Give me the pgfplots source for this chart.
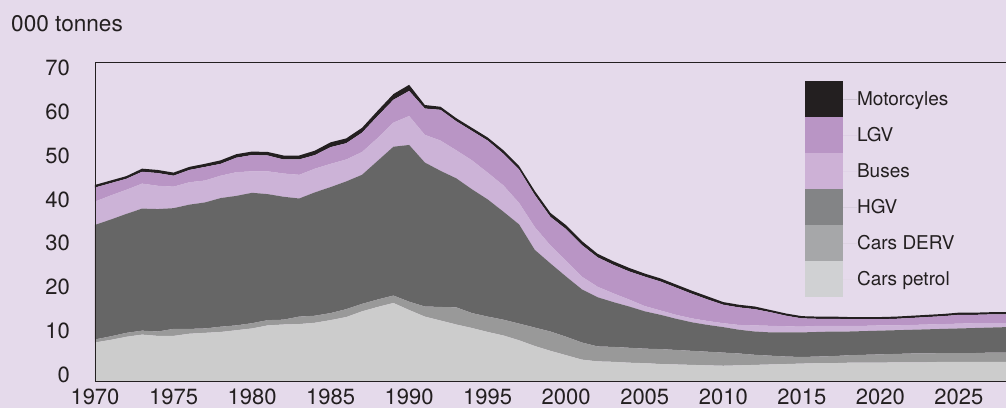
\documentclass[border=0pt]{standalone}
\usepackage{fontspec}
\setmainfont{TeX Gyre Heros}
\usepackage{pgfplots}
\usepackage{pgfplotstable}
\pgfplotsset{compat=1.18}
\definecolor{bgc}{HTML}{E5DAEB}
\definecolor{txt}{HTML}{231F20}
\definecolor{aPetrol}{HTML}{CCCCCC}
\definecolor{aDerv}{HTML}{999999}
\definecolor{aHgv}{HTML}{666666}
\definecolor{aBus}{HTML}{CCB3D7}
\definecolor{aLgv}{HTML}{B995C5}
\definecolor{aMoto}{HTML}{231F20}
\definecolor{lPetrol}{HTML}{D0D1D3}
\definecolor{lDerv}{HTML}{A6A7A9}
\definecolor{lHgv}{HTML}{838486}
\definecolor{lBus}{HTML}{CDB1D6}
\definecolor{lLgv}{HTML}{B995C5}
\definecolor{lMoto}{HTML}{231F20}

\pgfplotstableread{
year petrol derv hgv buses lgv moto
1970 7.4 0.7 26.1 5.3 3.2 0.6
1971 8.0 0.8 26.6 5.5 2.8 0.6
1972 8.7 0.9 27.1 5.5 2.5 0.6
1973 9.2 0.9 27.8 5.7 2.7 0.7
1974 8.9 1.0 27.9 5.3 2.9 0.7
1975 8.9 1.6 27.5 4.9 2.5 0.7
1976 9.4 1.1 28.3 5.1 2.8 0.7
1977 9.6 1.0 28.7 5.0 3.1 0.7
1978 9.8 1.2 29.3 5.1 2.7 0.8
1979 10.2 1.1 29.5 5.4 3.3 0.8
1980 10.6 1.2 29.7 4.9 3.7 0.8
1981 11.3 1.2 28.7 5.2 3.6 0.8
1982 11.5 1.1 28.0 5.3 3.2 0.9
1983 11.6 1.7 26.9 5.4 3.5 0.9
1984 11.9 1.6 28.1 5.4 3.1 1.0
1985 12.5 1.6 28.7 5.3 3.8 1.1
1986 13.2 1.8 29.1 5.0 3.7 1.1
1987 14.5 1.7 29.4 5.2 4.4 1.1
1988 15.5 1.7 31.6 5.2 5.0 1.2
1989 16.4 1.7 33.9 5.5 5.2 1.3
1990 14.8 1.9 35.7 6.6 5.7 1.4
1991 13.3 2.3 32.8 6.3 6.0 0.8
1992 12.4 3.1 31.0 6.9 7.0 0.7
1993 11.5 3.9 29.4 6.4 6.6 0.7
1994 10.7 3.4 28.2 6.6 6.7 0.7
1995 9.8 3.5 26.7 6.1 7.3 0.7
1996 9.0 3.6 24.6 6.0 7.2 0.8
1997 7.9 3.8 22.6 4.9 7.6 0.8
1998 6.6 4.2 17.7 5.2 7.3 0.9
1999 5.5 4.4 15.5 4.1 6.5 0.9
2000 4.5 4.2 13.7 3.6 7.2 0.9
2001 3.5 3.9 12.1 2.9 7.2 0.9
2002 3.1 3.4 11.2 2.4 6.7 0.8
2003 3.0 3.4 10.2 2.0 6.5 0.8
2004 2.8 3.4 9.4 1.6 6.4 0.8
2005 2.7 3.3 8.5 1.2 6.7 0.7
2006 2.5 3.4 7.8 1.0 6.6 0.7
2007 2.4 3.3 7.1 0.9 6.2 0.7
2008 2.3 3.2 6.5 0.9 5.6 0.7
2009 2.2 3.1 6.1 0.9 4.9 0.7
2010 2.1 3.0 5.8 0.9 4.2 0.6
2011 2.2 2.7 5.4 1.1 4.0 0.6
2012 2.3 2.3 5.3 1.4 3.7 0.6
2013 2.4 2.0 5.3 1.5 3.1 0.5
2014 2.5 1.7 5.5 1.4 2.4 0.5
2015 2.6 1.5 5.6 1.3 1.9 0.5
2016 2.7 1.5 5.6 1.4 1.6 0.5
2017 2.7 1.6 5.6 1.3 1.6 0.5
2018 2.8 1.7 5.4 1.3 1.5 0.5
2019 2.8 1.8 5.4 1.2 1.5 0.5
2020 2.8 1.9 5.4 1.2 1.4 0.5
2021 2.9 1.9 5.4 1.1 1.5 0.5
2022 2.9 2.0 5.4 1.1 1.6 0.5
2023 2.9 2.0 5.5 1.1 1.7 0.5
2024 3.0 2.0 5.5 1.1 1.8 0.5
2025 3.0 2.0 5.6 1.1 2.0 0.5
2026 3.0 2.0 5.7 1.1 1.9 0.5
2027 3.0 2.1 5.7 1.0 2.0 0.5
2028 3.0 2.1 5.8 0.9 2.0 0.5
}\emis

\begin{document}
\begin{tikzpicture}
\fill[bgc] (-95bp,-27bp) rectangle (911bp,381bp);
\node[anchor=base west, inner sep=0pt, text=txt, font=\fontsize{22.6bp}{26bp}\selectfont] at (-84bp,349bp) {000 tonnes};
\begin{axis}[
  scale only axis, width=911bp, height=319bp,
  at={(0bp,0bp)}, anchor=south west,
  xmin=1970, xmax=2028, ymin=-1.37, ymax=71.3,
  xtick={1970,1975,...,2025}, ytick={0,10,...,70},
  major tick length=0pt,
  axis line style={draw=txt, line width=0.8bp},
  axis on top,
  stack plots=y,
  tick label style={font=\fontsize{22bp}{24bp}\selectfont, text=txt, inner sep=0pt},
  /pgf/number format/assume math mode=true,
  /pgf/number format/1000 sep={},
  yticklabel style={anchor=east, xshift=-25bp},
  xticklabel style={anchor=north, yshift=-7.5bp},
  legend style={at={(0.7794,0.9404)}, anchor=north west, draw=none, fill=none,
    inner sep=0pt, outer sep=0pt, row sep=0pt, column sep=0pt,
    font=\fontsize{19bp}{21bp}\selectfont, text=txt,
    nodes={inner sep=0pt}},
  legend cell align=left,
  legend image code/.code={\fill[#1] (0bp,-18bp) rectangle (38bp,18bp); \path (0bp,0bp) -- (52bp,0bp);},
]
\addplot[fill=aPetrol, draw=none, forget plot] table[x=year, y=petrol]{\emis} |- (rel axis cs:0,0) -- cycle;
\addplot[fill=aDerv, draw=none, forget plot] table[x=year, y=derv]{\emis} \closedcycle;
\addplot[fill=aHgv, draw=none, forget plot] table[x=year, y=hgv]{\emis} \closedcycle;
\addplot[fill=aBus, draw=none, forget plot] table[x=year, y=buses]{\emis} \closedcycle;
\addplot[fill=aLgv, draw=none, forget plot] table[x=year, y=lgv]{\emis} \closedcycle;
\addplot[fill=aMoto, draw=none, forget plot] table[x=year, y=moto]{\emis} \closedcycle;
\addlegendimage{fill=lMoto, draw=none}
\addlegendentry{Motorcyles}
\addlegendimage{fill=lLgv, draw=none}
\addlegendentry{LGV}
\addlegendimage{fill=lBus, draw=none}
\addlegendentry{Buses}
\addlegendimage{fill=lHgv, draw=none}
\addlegendentry{HGV}
\addlegendimage{fill=lDerv, draw=none}
\addlegendentry{Cars DERV}
\addlegendimage{fill=lPetrol, draw=none}
\addlegendentry{Cars petrol}
\end{axis}
\pgfresetboundingbox
\useasboundingbox (-95bp,-27bp) rectangle (911bp,381bp);
\end{tikzpicture}
\end{document}
